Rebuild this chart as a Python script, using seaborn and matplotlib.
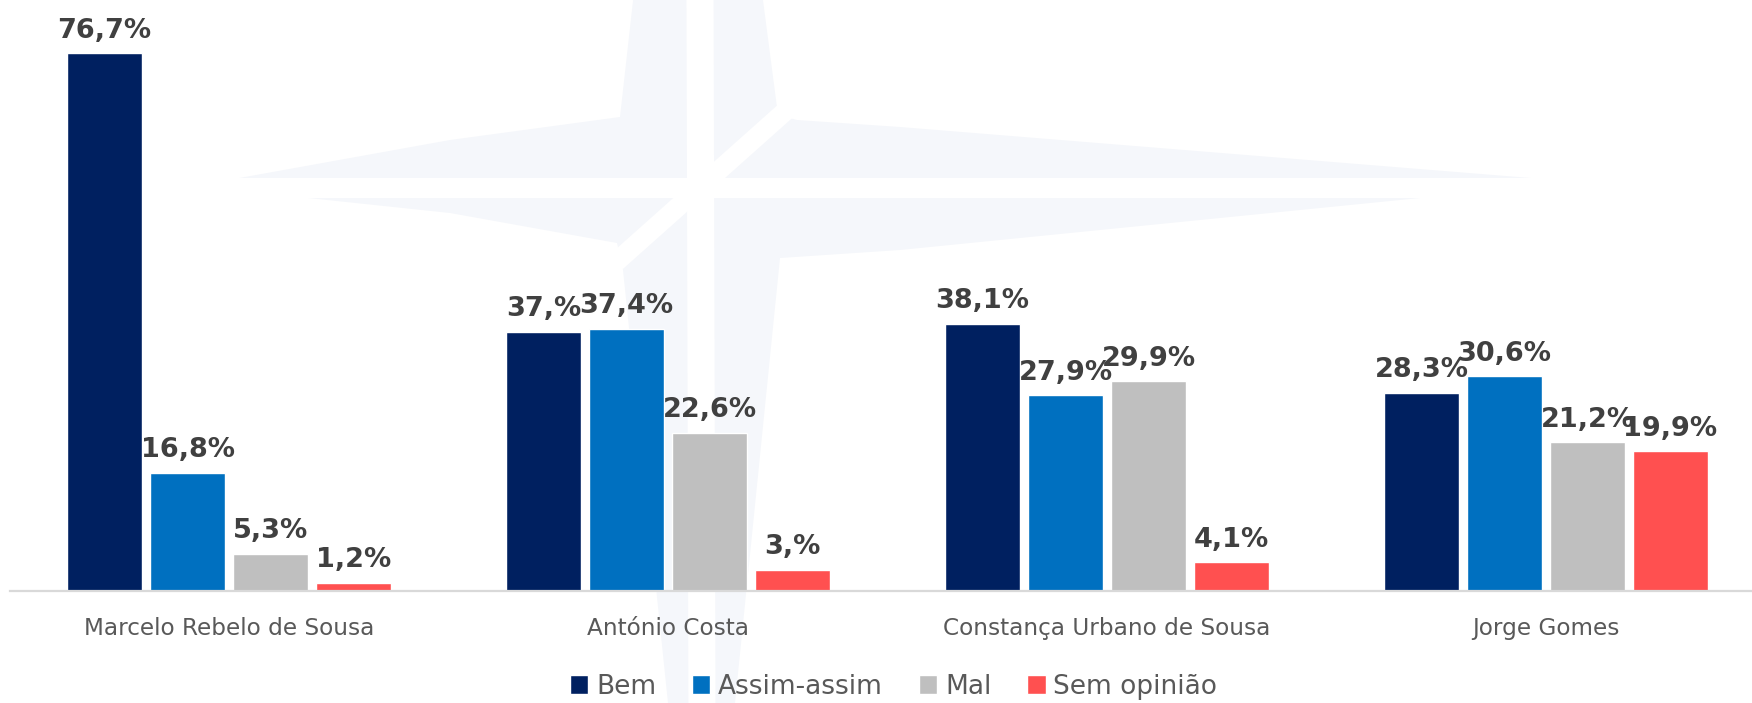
import pandas as pd
import matplotlib
matplotlib.use("Agg")
import matplotlib.pyplot as plt
import seaborn as sns
from matplotlib.patches import Polygon

# Data
candidates = ["Marcelo Rebelo de Sousa", "António Costa",
              "Constança Urbano de Sousa", "Jorge Gomes"]
answers = ["Bem", "Assim-assim", "Mal", "Sem opinião"]
bem = [76.7, 37.0, 38.1, 28.3]
assim_assim = [16.8, 37.4, 27.9, 30.6]
mal = [5.3, 22.6, 29.9, 21.2]
sem_opiniao = [1.2, 3.0, 4.1, 19.9]
bem_labels = ["76,7%", "37,%", "38,1%", "28,3%"]
assim_labels = ["16,8%", "37,4%", "27,9%", "30,6%"]
mal_labels = ["5,3%", "22,6%", "29,9%", "21,2%"]
sem_labels = ["1,2%", "3,%", "4,1%", "19,9%"]
colors = ["#002060", "#0070C0", "#BFBFBF", "#FF5050"]

series = [bem, assim_assim, mal, sem_opiniao]
labels = [bem_labels, assim_labels, mal_labels, sem_labels]
df = pd.DataFrame({
    "Candidato": candidates * 4,
    "Resposta": [a for a in answers for _ in candidates],
    "Valor": [v for s in series for v in s],
})

sns.set_style("white")
plt.rcParams["font.family"] = ["DejaVu Sans"]

W, H = 1752, 703
fig = plt.figure(figsize=(W / 100, H / 100), dpi=100)


# faint compass-star watermark behind the chart (pixel coords -> figure)
def fpt(x, y):
    return (x / W, 1 - y / H)


star = [(693, -535), (778, 115), (797, 120), (900, 127), (1580, 182),
        (900, 250), (780, 258), (735, 703), (702, 1000), (668, 703),
        (623, 270), (617, 243), (450, 213), (195, 186), (450, 140),
        (620, 117)]
fig.patches.append(Polygon([fpt(*p) for p in star], closed=True,
                           transform=fig.transFigure, facecolor="#F5F7FB",
                           edgecolor="none", zorder=-2))
gaps = [((150, 188), (1650, 188), 14.5),
        ((700, -10), (702, 720), 19.5),
        ((560, 312), (845, 58), 14)]
for p0, p1, lw in gaps:
    (x0, y0), (x1, y1) = fpt(*p0), fpt(*p1)
    fig.lines.append(plt.Line2D([x0, x1], [y0, y1], transform=fig.transFigure,
                                color="white", lw=lw, zorder=-1,
                                solid_capstyle="butt"))

ax = fig.add_axes([9.5 / W, 112 / H, 1 - 9.5 / W, 1 - 112 / H])
ax.patch.set_alpha(0)

sns.barplot(data=df, x="Candidato", y="Valor", hue="Resposta",
            palette=colors, saturation=1, width=0.756, gap=0.1, ax=ax)

for cont, labs in zip(ax.containers, labels):
    ax.bar_label(cont, labels=labs, padding=7, fontsize=19.5,
                 fontweight="bold", color="#404040")

ax.set_xlim(-0.5, -0.5 + (W - 9.5) / 439)
ax.set_ylim(0, 84.3)
ax.set_xlabel("")
ax.set_ylabel("")
ax.set_yticks([])
ax.tick_params(axis="x", length=0, pad=19, labelsize=16.7, labelcolor="#595959")
for side in ["left", "right", "top"]:
    ax.spines[side].set_visible(False)
ax.spines["bottom"].set_color("#D9D9D9")
ax.spines["bottom"].set_linewidth(1.6)

handles, labs = ax.get_legend_handles_labels()
ax.get_legend().remove()
leg = fig.legend(handles, labs, loc="center", bbox_to_anchor=(0.51, 0.023),
                 ncol=4, frameon=False, fontsize=19, handlelength=0.7,
                 handleheight=0.7, handletextpad=0.3, columnspacing=1.35,
                 borderpad=0, borderaxespad=0)
for t in leg.get_texts():
    t.set_color("#595959")

fig.savefig("out.png", dpi=100)
plt.close(fig)
